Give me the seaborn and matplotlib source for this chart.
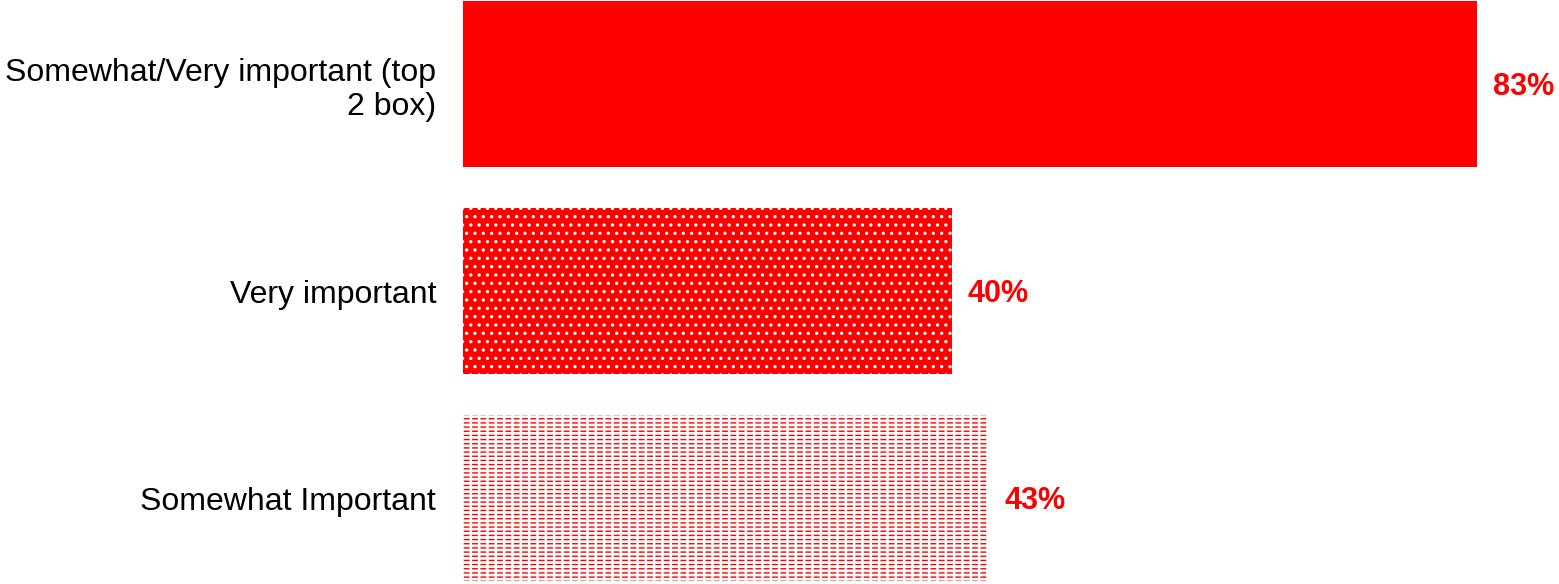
import matplotlib
matplotlib.use("Agg")
import matplotlib.pyplot as plt
import seaborn as sns
import pandas as pd

categories = ["Somewhat/Very important (top\n2 box)", "Very important", "Somewhat Important"]
values = [83, 40, 43]
value_labels = ["83%", "40%", "43%"]

sns.set_theme(style="white")
plt.rcParams['font.family'] = ['Liberation Sans', 'DejaVu Sans']
plt.rcParams['hatch.linewidth'] = 1.2

df = pd.DataFrame({"cat": categories, "val": values})

fig = plt.figure(figsize=(15.59, 5.84), dpi=100)
ax = fig.add_axes([463 / 1559, 0, 1 - 463 / 1559, 1])

sns.barplot(data=df, y="cat", x="val", orient="h", ax=ax, color="#FF0000",
            width=0.8, saturation=1)

patches = ax.patches
# bar 0: solid red
patches[0].set_facecolor("#FF0000")
patches[0].set_edgecolor("none")
# bar 1: red with white dots
patches[1].set_facecolor("#FF0000")
patches[1].set_hatch("..")
patches[1].set_edgecolor("white")
patches[1].set_linewidth(0)
# bar 2: white with red dashes
patches[2].set_facecolor("white")
patches[2].set_hatch("----")
patches[2].set_edgecolor("#FF0000")
patches[2].set_linewidth(0)

# overlay to break lines into dashes
overlay = ax.barh([2], [values[2]], height=0.8, left=0, facecolor="none",
                  edgecolor="white", hatch="||", linewidth=0)
for p in overlay.patches:
    if hasattr(p, "set_hatch_linewidth"):
        p.set_hatch_linewidth(1.8)
if hasattr(patches[2], "set_hatch_linewidth"):
    patches[2].set_hatch_linewidth(1.0)

for i, (v, lab) in enumerate(zip(values, value_labels)):
    ax.annotate(lab, xy=(v, i), xytext=(11.5, -2), textcoords="offset points",
                ha="left", va="center", color="#FF0000", fontsize=22,
                fontweight="bold")

ax.set_xlim(0, (1559 - 463) / ((1477 - 463) / 83))
ax.set_ylim(2.415, -0.406)
ax.set_xlabel("")
ax.set_ylabel("")
ax.set_xticks([])
ax.tick_params(axis="y", length=0, pad=19.4, labelsize=23, labelcolor="black")
for s in ax.spines.values():
    s.set_visible(False)

fig.savefig("out.png", dpi=100)
